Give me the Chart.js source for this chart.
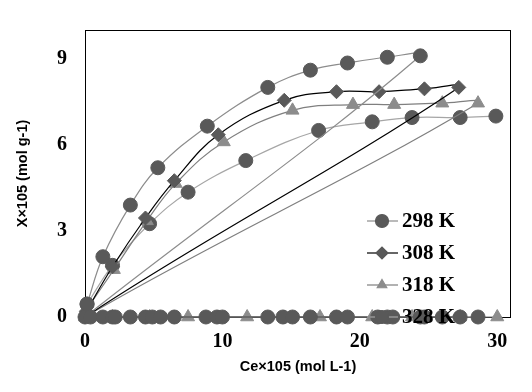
<!DOCTYPE html>
<html>
<head>
<meta charset="utf-8">
<script src="https://cdn.jsdelivr.net/npm/chart.js@4.4.1/dist/chart.umd.min.js"></script>
<style>
  html, body { margin: 0; padding: 0; background: #fff; }
</style>
</head>
<body>
<canvas id="isotherme" width="532" height="392"></canvas>
<script>
// Isothermes (X x 10^5 en fonction de Ce x 10^5)
const noms = ['298 K', '308 K', '318 K', '328 K'];

const ce298 = [0.15, 1.3, 3.3, 5.3, 8.9, 13.3, 16.4, 19.1, 22.0, 24.4];
const x298  = [0.45, 2.1, 3.9, 5.2, 6.65, 8.0, 8.6, 8.85, 9.05, 9.1];

const ce308 = [0.1, 2.0, 4.4, 6.5, 9.7, 14.5, 18.3, 21.4, 24.7, 27.2];
const x308  = [0.2, 1.75, 3.45, 4.75, 6.35, 7.55, 7.85, 7.85, 7.95, 8.0];

const ce318 = [0.1, 2.1, 4.5, 6.6, 10.1, 15.1, 19.5, 22.5, 26.0, 28.6];
const x318  = [0.25, 1.65, 3.35, 4.65, 6.1, 7.2, 7.4, 7.4, 7.45, 7.45];

const ce328 = [0.15, 2.0, 4.7, 7.5, 11.7, 17.0, 20.9, 23.8, 27.3, 29.9];
const x328  = [0.45, 1.8, 3.25, 4.35, 5.45, 6.5, 6.8, 6.95, 6.95, 7.0];

// lignes du tableau avec X = 0 (points couchés sur l'axe)
const zero298 = [0.0, 0.4, 1.3, 2.0, 2.2, 3.3, 4.4, 4.9, 5.5, 6.5, 8.8, 9.6, 10.0, 13.3, 14.4, 15.1, 16.4, 18.3, 19.1, 21.3, 22.0, 22.4, 24.4, 24.7, 26.0, 27.3, 28.6];
const zero308 = [0.0, 2.0, 4.4, 6.5, 9.7, 14.5, 18.3, 21.4, 24.7, 27.2];
const zero318 = [0.0, 2.0, 4.7, 7.5, 11.8, 17.1, 20.9, 23.8, 27.3, 30.0];

const xTicks = [0, 10, 20, 30];
const yTicks = [0, 3, 6, 9];

function points(xs, ys) { return xs.map((x, i) => ({ x: x, y: ys[i] })); }
function zeros(xs) { return xs.map(x => ({ x: x, y: 0 })); }

function serie(label, data, ligne, style, fond, rayon) {
    return {
        label: label,
        data: data,
        showLine: true,
        tension: 0.4,
        borderColor: ligne,
        borderWidth: 1.2,
        pointStyle: style,
        pointRadius: rayon,
        pointBackgroundColor: fond,
        pointBorderColor: fond,
        pointBorderWidth: 1,
        clip: false
    };
}

// cadre noir autour de la zone de tracé
const cadre = {
    id: 'cadre',
    beforeDatasetsDraw(chart) {
        const a = chart.chartArea, ctx = chart.ctx;
        ctx.save();
        ctx.strokeStyle = '#000';
        ctx.lineWidth = 1;
        ctx.strokeRect(Math.round(a.left) + 0.5, Math.round(a.top) + 0.5,
                       Math.round(a.right - a.left) - 1, Math.round(a.bottom - a.top));
        ctx.restore();
    }
};

// légende dessinée dans le graphe, en bas à droite
const legendeManuelle = {
    id: 'legendeManuelle',
    afterDatasetsDraw(chart) {
        const ctx = chart.ctx;
        chart.data.datasets.forEach((ds, i) => {
            const y = 221 + i * 32;
            ctx.save();
            ctx.strokeStyle = ds.borderColor;
            ctx.lineWidth = 1.2;
            ctx.beginPath();
            ctx.moveTo(367, y);
            ctx.lineTo(398, y);
            ctx.stroke();
            const r = ds.pointStyle === 'circle' ? 6.5 : (ds.pointStyle === 'triangle' ? 5.5 : 6);
            ctx.fillStyle = ds.pointBackgroundColor;
            ctx.strokeStyle = ds.pointBorderColor;
            Chart.helpers.drawPoint(ctx, { pointStyle: ds.pointStyle, radius: r, borderWidth: 1 }, 382, y);
            ctx.fillStyle = '#000';
            ctx.font = 'bold 21px "Liberation Serif"';
            ctx.textBaseline = 'middle';
            ctx.fillText(noms[i], 402, y + 1);
            ctx.restore();
        });
    }
};

const ctx = document.getElementById('isotherme').getContext('2d');

new Chart(ctx, {
    type: 'scatter',
    data: {
        datasets: [
            serie(noms[0], points(ce298, x298).concat(zeros(zero298)), '#8c8c8c', 'circle', '#595959', 7),
            serie(noms[1], points(ce308, x308).concat(zeros(zero308)), '#000000', 'rectRot', '#595959', 7),
            serie(noms[2], points(ce318, x318).concat(zeros(zero318)), '#7f7f7f', 'triangle', '#8c8c8c', 7.5),
            serie(noms[3], points(ce328, x328), '#a6a6a6', 'circle', '#595959', 7)
        ]
    },
    options: {
        responsive: false,
        animation: false,
        layout: { padding: { top: 9, right: 21, left: 0, bottom: 0 } },
        scales: {
            x: {
                type: 'linear',
                min: 0,
                max: 31,
                ticks: {
                    stepSize: 10,
                    padding: 13,
                    color: '#000',
                    font: { family: 'Liberation Serif', weight: 'bold', size: 20 }
                },
                afterBuildTicks: axis => { axis.ticks = xTicks.map(v => ({ value: v })); },
                afterFit: axis => { axis.height = 75; },
                grid: { display: false, drawTicks: false },
                border: { display: false },
                title: {
                    display: true,
                    text: 'Ce×105 (mol L-1)',
                    color: '#000',
                    font: { family: 'Liberation Sans', weight: 'bold', size: 14.5 },
                    padding: { top: 0, bottom: 16 }
                }
            },
            y: {
                min: 0,
                max: 10,
                ticks: {
                    stepSize: 3,
                    padding: 18,
                    color: '#000',
                    font: { family: 'Liberation Serif', weight: 'bold', size: 20 }
                },
                afterBuildTicks: axis => { axis.ticks = yTicks.map(v => ({ value: v })); },
                afterFit: axis => { axis.width = 85; },
                grid: { display: false, drawTicks: false },
                border: { display: false },
                title: {
                    display: true,
                    text: 'X×105 (mol g-1)',
                    color: '#000',
                    font: { family: 'Liberation Sans', weight: 'bold', size: 14.5 },
                    padding: { top: 14, bottom: 0 }
                }
            }
        },
        plugins: {
            legend: { display: false },
            tooltip: { enabled: false }
        }
    },
    plugins: [cadre, legendeManuelle]
});
</script>
</body>
</html>
